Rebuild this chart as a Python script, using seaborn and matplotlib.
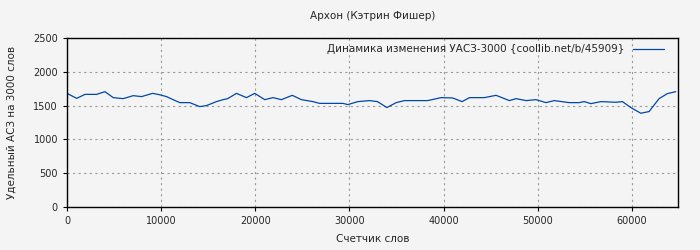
import matplotlib
matplotlib.use("Agg")
import matplotlib.pyplot as plt
import seaborn as sns
import pandas as pd

words = [0, 1030, 1910, 3150, 4030, 4910, 5970, 7030, 7920, 9090, 9860, 10570,
         11270, 11980, 13040, 14100, 14810, 15870, 16580, 17070, 18000, 19060,
         19940, 21000, 21880, 22770, 23930, 24890, 26120, 26830, 29300, 29830,
         30890, 32130, 32980, 33970, 34960, 35840, 38310, 39730, 40960, 41960,
         42740, 44330, 45570, 46980, 47690, 48750, 49810, 50870, 51750, 53340,
         54400, 54930, 55640, 56700, 58290, 58990, 59880, 60940, 61820, 62880,
         63760, 64650]
values = [1681, 1607, 1666, 1666, 1706, 1618, 1603, 1647, 1633, 1681, 1660, 1633,
          1588, 1544, 1544, 1485, 1500, 1559, 1588, 1603, 1681, 1618,
          1681, 1588, 1618, 1588, 1652, 1588, 1559, 1533, 1533, 1515,
          1559, 1574, 1559, 1471, 1544, 1574, 1574, 1618, 1613, 1559,
          1618, 1618, 1652, 1574, 1603, 1574, 1588, 1544, 1574, 1544,
          1544, 1559, 1529, 1559, 1549, 1559, 1471, 1387, 1412, 1603,
          1677, 1706]
series_label = "Динамика изменения УАСЗ-3000 {coollib.net/b/45909}"
title = "Архон (Кэтрин Фишер)"
xlabel = "Счетчик слов"
ylabel = "Удельный АСЗ на 3000 слов"

sns.set_style("white")
plt.rcParams['font.family'] = ['DejaVu Sans']

df = pd.DataFrame({"x": words, "y": values, "s": series_label})

fig = plt.figure(figsize=(7, 2.5), dpi=100, facecolor="#f4f4f4")
ax = fig.add_axes([0.0957, 0.172, 0.873, 0.676])
ax.set_facecolor("#f4f4f4")
sns.lineplot(data=df, x="x", y="y", hue="s", palette=["#0047ab"], linewidth=0.9, ax=ax)

ax.set_xlim(0, 64900)
ax.set_ylim(0, 2500)
ax.set_xticks(range(0, 60001, 10000))
ax.set_yticks(range(0, 2501, 500))
ax.grid(True, color="#999999", linestyle=(0, (2, 3)), linewidth=0.8)
for s in ax.spines.values():
    s.set_color("black")
    s.set_linewidth(1)
ax.tick_params(axis="both", labelsize=7, length=3, direction="out", color="black",
               left=True, bottom=True)
ax.set_xlabel(xlabel, fontsize=7.5, labelpad=6)
ax.set_ylabel(ylabel, fontsize=7.5, labelpad=12)
ax.set_title(title, fontsize=7.5, pad=14)
leg = ax.legend(loc="upper right", bbox_to_anchor=(0.987, 1.0), frameon=False,
                fontsize=7.5, markerfirst=False, handlelength=3, borderaxespad=0.2)
plt.savefig("out.png", dpi=100, facecolor="#f4f4f4")
